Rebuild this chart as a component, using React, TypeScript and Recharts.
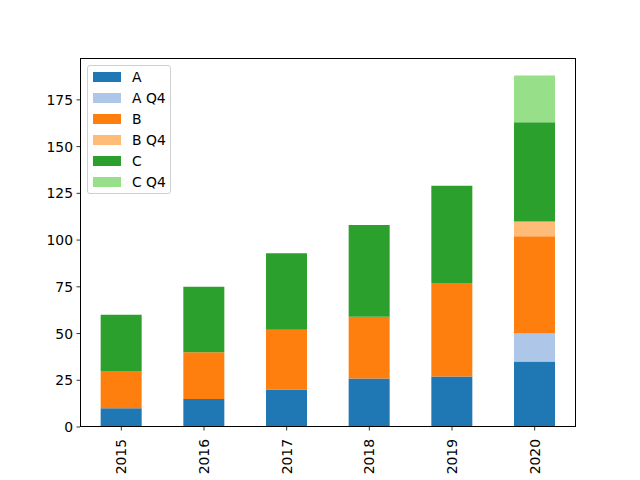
import React from "react";
import { Bar, BarChart, XAxis, YAxis } from "recharts";

const years = ["2015", "2016", "2017", "2018", "2019", "2020"];
const seriesA = [10, 15, 20, 26, 27, 35];
const seriesAQ4 = [0, 0, 0, 0, 0, 15];
const seriesB = [20, 25, 32, 33, 50, 52];
const seriesBQ4 = [0, 0, 0, 0, 0, 8];
const seriesC = [30, 35, 41, 49, 52, 53];
const seriesCQ4 = [0, 0, 0, 0, 0, 25];
const yTicks = [0, 25, 50, 75, 100, 125, 150, 175];

const series = [
  { key: "A", color: "#1f77b4", values: seriesA },
  { key: "A Q4", color: "#aec7e8", values: seriesAQ4 },
  { key: "B", color: "#ff7f0e", values: seriesB },
  { key: "B Q4", color: "#ffbb78", values: seriesBQ4 },
  { key: "C", color: "#2ca02c", values: seriesC },
  { key: "C Q4", color: "#98df8a", values: seriesCQ4 },
];

const data = years.map((year, i) => {
  const row: Record<string, string | number> = { year };
  series.forEach((s) => (row[s.key] = s.values[i]));
  return row;
});

const font = "DejaVu Sans, sans-serif";

function XTick({ x, y, payload }: any) {
  return (
    <g>
      <line x1={x} x2={x} y1={y} y2={y + 3.5} stroke="#000" strokeWidth={0.8} />
      <text
        x={x}
        y={y + 12}
        transform={`rotate(-90, ${x}, ${y + 12})`}
        textAnchor="end"
        dominantBaseline="central"
        fontSize={13.9}
        fontFamily={font}
        fill="#000"
      >
        {payload.value}
      </text>
    </g>
  );
}

function YTick({ x, y, payload }: any) {
  return (
    <g>
      <line x1={x - 3.5} x2={x} y1={y} y2={y} stroke="#000" strokeWidth={0.8} />
      <text x={x - 7} y={y} textAnchor="end" dominantBaseline="central" fontSize={13.9} fontFamily={font} fill="#000">
        {payload.value}
      </text>
    </g>
  );
}

function LegendBox() {
  return (
    <div
      style={{
        position: "absolute",
        left: 87,
        top: 65,
        width: 84,
        height: 129,
        border: "1px solid #d0d0d0",
        borderRadius: 3,
        background: "rgba(255,255,255,0.8)",
        boxSizing: "border-box",
        fontFamily: font,
        fontSize: 13.9,
      }}
    >
      {series.map((s, i) => (
        <div key={s.key} style={{ position: "absolute", left: 5, top: 1 + i * 21, height: 20, display: "flex", alignItems: "center" }}>
          <div style={{ width: 28, height: 10, background: s.color }} />
          <span style={{ marginLeft: 11, color: "#000", whiteSpace: "nowrap" }}>{s.key}</span>
        </div>
      ))}
    </div>
  );
}

export default function App() {
  return (
    <div style={{ position: "absolute", left: 0, top: 0, width: 640, height: 480, background: "#fff" }}>
      <BarChart
        width={640}
        height={480}
        data={data}
        margin={{ top: 58, right: 64, left: 0, bottom: 0 }}
        barCategoryGap="25%"
      >
        <XAxis
          dataKey="year"
          height={53}
          tick={<XTick />}
          tickLine={false}
          tickSize={0}
          tickMargin={0}
          axisLine={false}
          interval={0}
        />
        <YAxis
          width={80}
          domain={[0, 197.4]}
          ticks={yTicks}
          tick={<YTick />}
          tickLine={false}
          tickSize={0}
          tickMargin={0}
          axisLine={false}
          allowDataOverflow
        />
        {series.map((s) => (
          <Bar key={s.key} dataKey={s.key} stackId="a" fill={s.color} isAnimationActive={false} />
        ))}
      </BarChart>
      <div
        style={{
          position: "absolute",
          left: 80,
          top: 58,
          width: 496,
          height: 369,
          border: "1px solid #000",
          boxSizing: "border-box",
          pointerEvents: "none",
        }}
      />
      <LegendBox />
    </div>
  );
}
